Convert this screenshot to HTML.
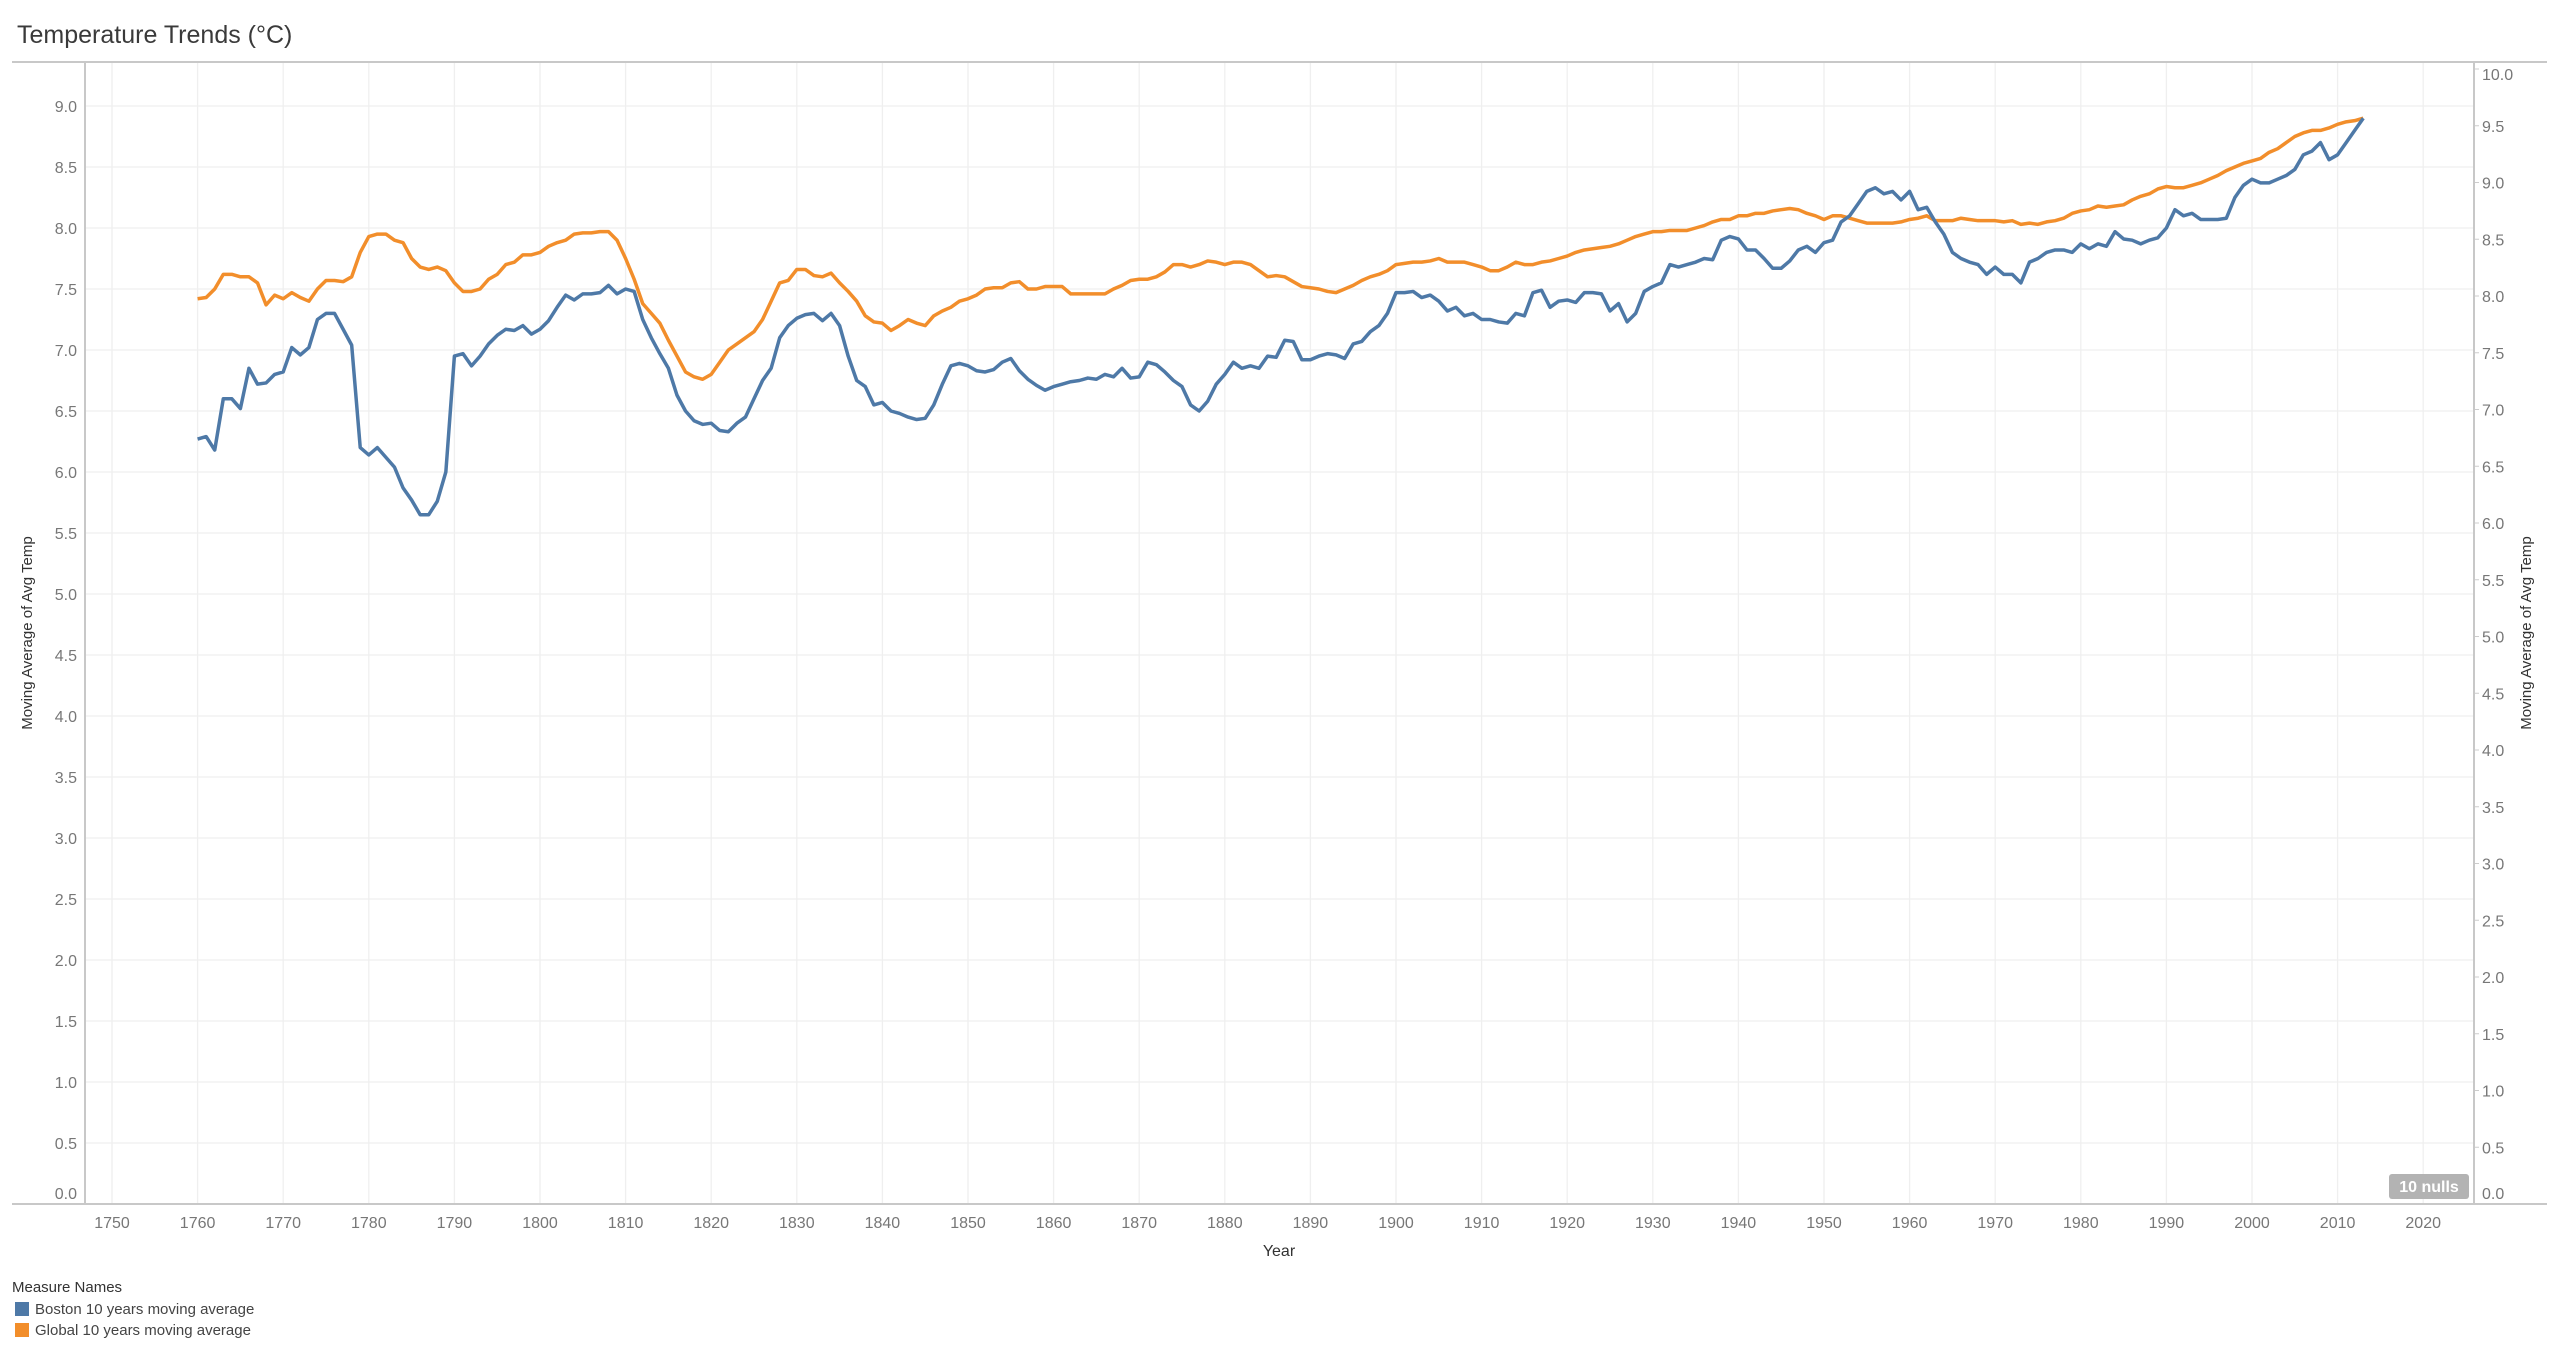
<!DOCTYPE html>
<html><head><meta charset="utf-8"><style>
html,body{margin:0;padding:0;background:#fff;width:2560px;height:1364px;overflow:hidden;font-family:"Liberation Sans",sans-serif}
svg{display:block}
</style></head><body>
<svg id="chart" width="2560" height="1364" xmlns="http://www.w3.org/2000/svg">
<text x="17" y="43" font-size="25" fill="#3a3a3a">Temperature Trends (°C)</text>
<g id="grid"></g>
<g id="axes"></g>
<g id="lines"></g>
<text x="32" y="633" font-size="15" fill="#333" text-anchor="middle" transform="rotate(-90 32 633)">Moving Average of Avg Temp</text>
<text x="2531" y="633" font-size="15" fill="#333" text-anchor="middle" transform="rotate(-90 2531 633)">Moving Average of Avg Temp</text>
<text x="1279" y="1256" font-size="16" fill="#333" text-anchor="middle">Year</text>
<g><rect x="2389" y="1174" width="80" height="25" rx="3" fill="#b3b3b3"/><text x="2429" y="1192" font-size="16" font-weight="bold" fill="#fff" text-anchor="middle">10 nulls</text></g>
<g>
<text x="12" y="1292" font-size="15" fill="#333">Measure Names</text>
<g><rect x="15" y="1302" width="14" height="14" fill="#4e79a7"/><text x="35" y="1314" font-size="15" fill="#444">Boston 10 years moving average</text></g>
<g><rect x="15" y="1323" width="14" height="14" fill="#f28e2b"/><text x="35" y="1335" font-size="15" fill="#444">Global 10 years moving average</text></g>
</g>
</svg>
<script>
const startYear = 1760;
const bostonValues = [6.27,6.29,6.18,6.6,6.6,6.52,6.85,6.72,6.73,6.8,6.82,7.02,6.96,7.02,7.25,7.3,7.3,7.17,7.04,6.2,6.14,6.2,6.12,6.04,5.87,5.77,5.65,5.65,5.76,6.0,6.95,6.97,6.87,6.95,7.05,7.12,7.17,7.16,7.2,7.13,7.17,7.24,7.35,7.45,7.41,7.46,7.46,7.47,7.53,7.46,7.5,7.48,7.25,7.1,6.97,6.85,6.63,6.5,6.42,6.39,6.4,6.34,6.33,6.4,6.45,6.6,6.75,6.85,7.1,7.2,7.26,7.29,7.3,7.24,7.3,7.2,6.95,6.75,6.7,6.55,6.57,6.5,6.48,6.45,6.43,6.44,6.55,6.72,6.87,6.89,6.87,6.83,6.82,6.84,6.9,6.93,6.83,6.76,6.71,6.67,6.7,6.72,6.74,6.75,6.77,6.76,6.8,6.78,6.85,6.77,6.78,6.9,6.88,6.82,6.75,6.7,6.55,6.5,6.58,6.72,6.8,6.9,6.85,6.87,6.85,6.95,6.94,7.08,7.07,6.92,6.92,6.95,6.97,6.96,6.93,7.05,7.07,7.15,7.2,7.3,7.47,7.47,7.48,7.43,7.45,7.4,7.32,7.35,7.28,7.3,7.25,7.25,7.23,7.22,7.3,7.28,7.47,7.49,7.35,7.4,7.41,7.39,7.47,7.47,7.46,7.32,7.38,7.23,7.3,7.48,7.52,7.55,7.7,7.68,7.7,7.72,7.75,7.74,7.9,7.93,7.91,7.82,7.82,7.75,7.67,7.67,7.73,7.82,7.85,7.8,7.88,7.9,8.05,8.1,8.2,8.3,8.33,8.28,8.3,8.23,8.3,8.15,8.17,8.05,7.95,7.8,7.75,7.72,7.7,7.62,7.68,7.62,7.62,7.55,7.72,7.75,7.8,7.82,7.82,7.8,7.87,7.83,7.87,7.85,7.97,7.91,7.9,7.87,7.9,7.92,8.0,8.15,8.1,8.12,8.07,8.07,8.07,8.08,8.25,8.35,8.4,8.37,8.37,8.4,8.43,8.48,8.6,8.63,8.7,8.56,8.6,8.7,8.8,8.9];
const globalValuesLeftScale = [7.42,7.43,7.5,7.62,7.62,7.6,7.6,7.55,7.37,7.45,7.42,7.47,7.43,7.4,7.5,7.57,7.57,7.56,7.6,7.8,7.93,7.95,7.95,7.9,7.88,7.75,7.68,7.66,7.68,7.65,7.55,7.48,7.48,7.5,7.58,7.62,7.7,7.72,7.78,7.78,7.8,7.85,7.88,7.9,7.95,7.96,7.96,7.97,7.97,7.9,7.75,7.58,7.38,7.3,7.22,7.08,6.95,6.82,6.78,6.76,6.8,6.9,7.0,7.05,7.1,7.15,7.25,7.4,7.55,7.57,7.66,7.66,7.61,7.6,7.63,7.55,7.48,7.4,7.28,7.23,7.22,7.16,7.2,7.25,7.22,7.2,7.28,7.32,7.35,7.4,7.42,7.45,7.5,7.51,7.51,7.55,7.56,7.5,7.5,7.52,7.52,7.52,7.46,7.46,7.46,7.46,7.46,7.5,7.53,7.57,7.58,7.58,7.6,7.64,7.7,7.7,7.68,7.7,7.73,7.72,7.7,7.72,7.72,7.7,7.65,7.6,7.61,7.6,7.56,7.52,7.51,7.5,7.48,7.47,7.5,7.53,7.57,7.6,7.62,7.65,7.7,7.71,7.72,7.72,7.73,7.75,7.72,7.72,7.72,7.7,7.68,7.65,7.65,7.68,7.72,7.7,7.7,7.72,7.73,7.75,7.77,7.8,7.82,7.83,7.84,7.85,7.87,7.9,7.93,7.95,7.97,7.97,7.98,7.98,7.98,8.0,8.02,8.05,8.07,8.07,8.1,8.1,8.12,8.12,8.14,8.15,8.16,8.15,8.12,8.1,8.07,8.1,8.1,8.08,8.06,8.04,8.04,8.04,8.04,8.05,8.07,8.08,8.1,8.06,8.06,8.06,8.08,8.07,8.06,8.06,8.06,8.05,8.06,8.03,8.04,8.03,8.05,8.06,8.08,8.12,8.14,8.15,8.18,8.17,8.18,8.19,8.23,8.26,8.28,8.32,8.34,8.33,8.33,8.35,8.37,8.4,8.43,8.47,8.5,8.53,8.55,8.57,8.62,8.65,8.7,8.75,8.78,8.8,8.8,8.82,8.85,8.87,8.88,8.9];
const xTickLabels = [1750,1760,1770,1780,1790,1800,1810,1820,1830,1840,1850,1860,1870,1880,1890,1900,1910,1920,1930,1940,1950,1960,1970,1980,1990,2000,2010,2020];
const leftTickLabels = ["0.0","0.5","1.0","1.5","2.0","2.5","3.0","3.5","4.0","4.5","5.0","5.5","6.0","6.5","7.0","7.5","8.0","8.5","9.0"];
const rightTickLabels = ["0.0","0.5","1.0","1.5","2.0","2.5","3.0","3.5","4.0","4.5","5.0","5.5","6.0","6.5","7.0","7.5","8.0","8.5","9.0","9.5","10.0"];

const NS = "http://www.w3.org/2000/svg";
const x = yr => 112 + (yr - 1750) * 8.56;
const yL = v => 1204 - 122 * v;
const yR = v => 1204 - 113.5 * v;
function mk(tag, attrs, parent){const e=document.createElementNS(NS,tag);for(const k in attrs)e.setAttribute(k,attrs[k]);parent.appendChild(e);return e;}
const grid=document.getElementById('grid'), axes=document.getElementById('axes'), lines=document.getElementById('lines');

xTickLabels.forEach(t=>{
  const l=mk('line',{x1:x(t),x2:x(t),y1:62,y2:1204,stroke:'#efefef','stroke-width':1.3},grid);
  
  
  const tx=mk('text',{x:x(t),y:1228,'font-size':16,fill:'#777','text-anchor':'middle'},axes);
  tx.textContent=t;
  
  
});
leftTickLabels.forEach(s=>{
  const v=parseFloat(s);
  if(v>0){const l=mk('line',{x1:85,x2:2474,y1:yL(v),y2:yL(v),stroke:'#efefef','stroke-width':1.3},grid);
  
  }
  const ty=v===0?1199:yL(v)+6;
  const tx=mk('text',{x:77,y:ty,'font-size':16,fill:'#777','text-anchor':'end'},axes);
  tx.textContent=s;
  
  
});
rightTickLabels.forEach(s=>{
  const v=parseFloat(s);
  mk('line',{x1:2474,x2:2479,y1:yR(v),y2:yR(v),stroke:'#ccc','stroke-width':1},axes);
  let ty=yR(v)+6; if(v===0)ty=1199; if(v===10)ty=80;
  const tx=mk('text',{x:2482,y:ty,'font-size':16,fill:'#777'},axes);
  tx.textContent=s;
  
  
});
mk('line',{x1:12,x2:2547,y1:62,y2:62,stroke:'#c8c8c8','stroke-width':2},axes);
mk('line',{x1:12,x2:2547,y1:1204,y2:1204,stroke:'#c8c8c8','stroke-width':2},axes);
mk('line',{x1:85,x2:85,y1:62,y2:1204,stroke:'#c8c8c8','stroke-width':2},axes);
mk('line',{x1:2474,x2:2474,y1:62,y2:1204,stroke:'#c8c8c8','stroke-width':2},axes);

const gp=mk('polyline',{points:globalValuesLeftScale.map((v,i)=>x(startYear+i)+','+yL(v)).join(' '),fill:'none',stroke:'#f28e2b','stroke-width':3.5,'stroke-linejoin':'round'},lines);


const bp=mk('polyline',{points:bostonValues.map((v,i)=>x(startYear+i)+','+yL(v)).join(' '),fill:'none',stroke:'#4e79a7','stroke-width':3.5,'stroke-linejoin':'round'},lines);


</script>
</body></html>
